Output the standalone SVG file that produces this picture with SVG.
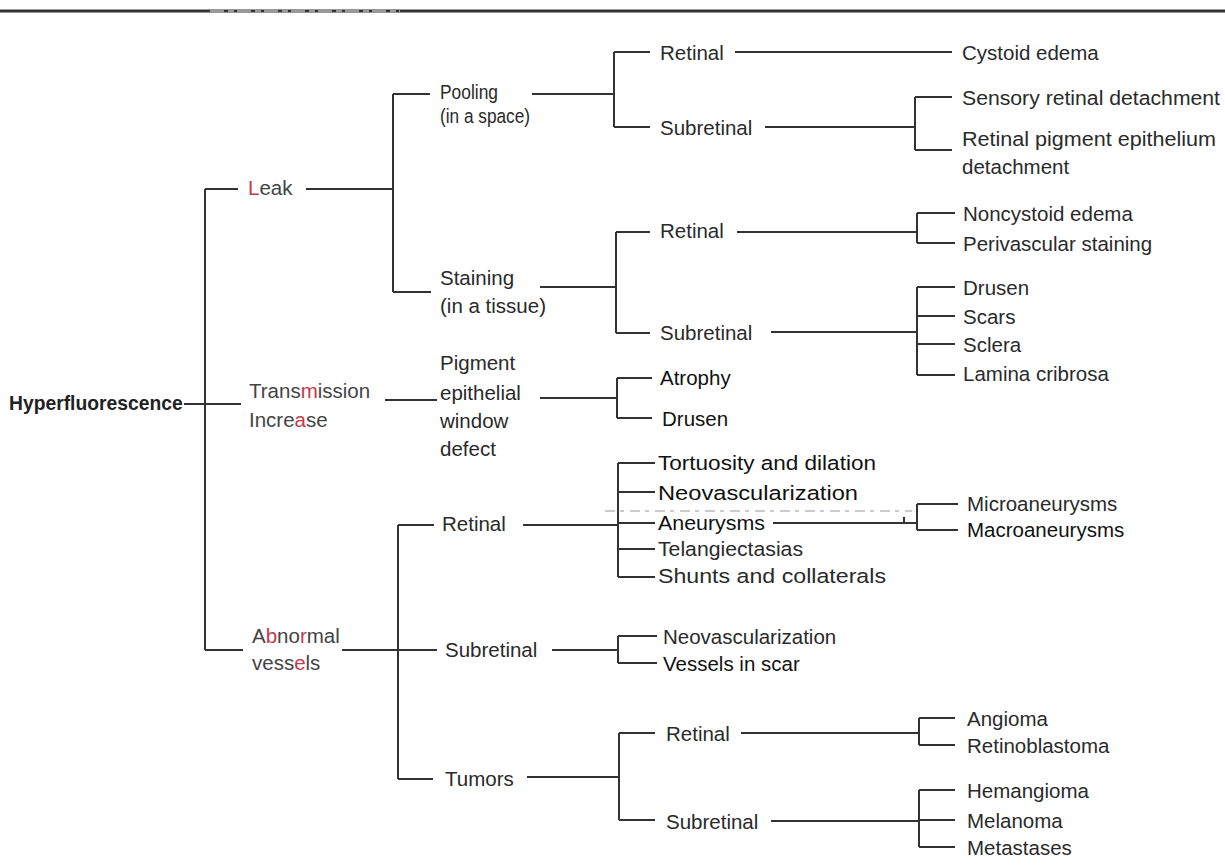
<svg xmlns="http://www.w3.org/2000/svg" width="1225" height="867" viewBox="0 0 1225 867">
<style>
text{font-family:"Liberation Sans",Arial,sans-serif;font-size:20.5px;fill:#2a2a2a;dominant-baseline:central}
.b{font-weight:bold;fill:#222;font-size:19.3px}
.d{fill:#111}
.r{fill:#c8384e}
.l{fill:#444}
#connectors path{fill:none;stroke:#333;stroke-width:2}
#connectors .faint{stroke:#bbb;stroke-width:1.5;stroke-dasharray:10 5 4 6}
</style>
<rect width="1225" height="867" fill="#fff"/>
<line x1="0" y1="11" x2="1225" y2="11" stroke="#333" stroke-width="3"/>
<line x1="210" y1="11" x2="400" y2="11" stroke="#999" stroke-width="3" stroke-dasharray="14 4 6 3"/>
<g id="connectors">
<path d="M184 404H241M205 189V650M205 189H238M205 650H243"/>
<path d="M306 189H393M393 94V292M393 94H430M393 292H431"/>
<path d="M532 94H614M614 52V127M614 52H650M614 127H650"/>
<path d="M735 52H952M765 127H915M915 97V150M915 97H952M915 150H952"/>
<path d="M540 287H616M616 232V333M616 232H650M616 333H650"/>
<path d="M737 232H917M917 213V243M917 213H955M917 243H955"/>
<path d="M771 332H917M917 287V375M917 287H955M917 316H955M917 344H955M917 375H955"/>
<path d="M385 400H437M540 398H617M617 378V418M617 378H652M617 418H652"/>
<path d="M342 650H437M398 525V779M398 525H434M398 779H433"/>
<path d="M523 525H618M618 463V577M618 463H655M618 492H655M618 523H655M618 549H655M618 577H655"/>
<path d="M773 523H917M917 504V530M917 504H958M917 530H958M904 517V523"/>
<path class="faint" d="M605 511H912"/>
<path d="M552 650H618M618 636V663M618 636H657M618 663H657"/>
<path d="M527 777H619M619 733V820M619 733H655M619 820H655"/>
<path d="M741 733H919M919 718V745M919 718H955M919 745H955"/>
<path d="M771 821H919M919 790V847M919 790H955M919 820H955M919 847H955"/>
</g>
<g id="n-root"><text class="b" x="9" y="403">Hyperfluorescence</text></g>
<g id="n-leak"><text class="l" x="248" y="187"><tspan class="r">L</tspan>eak</text></g>
<g id="n-transmission"><text class="l" x="249" y="390">Trans<tspan class="r">m</tspan>ission</text><text class="l" x="249" y="419">Incre<tspan class="r">a</tspan>se</text></g>
<g id="n-abnormal"><text class="l" x="252" y="635">A<tspan class="r">b</tspan>no<tspan class="r">r</tspan>mal</text><text class="l" x="252" y="662">vess<tspan class="r">e</tspan>ls</text></g>
<g id="n-pooling"><text x="440" y="91" textLength="58" lengthAdjust="spacingAndGlyphs">Pooling</text><text x="440" y="115" textLength="90" lengthAdjust="spacingAndGlyphs">(in a space)</text></g>
<g id="n-staining"><text x="440" y="277">Staining</text><text x="440" y="305">(in a tissue)</text></g>
<g id="n-pigment"><text x="440" y="362">Pigment</text><text x="440" y="392">epithelial</text><text x="440" y="420">window</text><text x="440" y="448">defect</text></g>
<g id="n-pool-retinal"><text x="660" y="52">Retinal</text></g>
<g id="n-pool-subretinal"><text x="660" y="127">Subretinal</text></g>
<g id="n-cystoid"><text x="962" y="52">Cystoid edema</text></g>
<g id="n-sensory"><text x="962" y="97" textLength="258" lengthAdjust="spacingAndGlyphs">Sensory retinal detachment</text></g>
<g id="n-rpe"><text x="962" y="138" textLength="254" lengthAdjust="spacingAndGlyphs">Retinal pigment epithelium</text><text x="962" y="166">detachment</text></g>
<g id="n-stain-retinal"><text x="660" y="230">Retinal</text></g>
<g id="n-stain-subretinal"><text x="660" y="332">Subretinal</text></g>
<g id="n-noncystoid"><text x="963" y="213">Noncystoid edema</text></g>
<g id="n-perivascular"><text x="963" y="243">Perivascular staining</text></g>
<g id="n-drusen1"><text x="963" y="287">Drusen</text></g>
<g id="n-scars"><text x="963" y="316">Scars</text></g>
<g id="n-sclera"><text x="963" y="344">Sclera</text></g>
<g id="n-lamina"><text x="963" y="373">Lamina cribrosa</text></g>
<g id="n-atrophy"><text class="d" x="660" y="377">Atrophy</text></g>
<g id="n-drusen2"><text class="d" x="662" y="418">Drusen</text></g>
<g id="n-av-retinal"><text x="442" y="523">Retinal</text></g>
<g id="n-tortuosity"><text class="d" x="658" y="462" textLength="218" lengthAdjust="spacingAndGlyphs">Tortuosity and dilation</text></g>
<g id="n-neovasc1"><text class="d" x="658" y="492" textLength="200" lengthAdjust="spacingAndGlyphs">Neovascularization</text></g>
<g id="n-aneurysms"><text class="d" x="658" y="522" textLength="107" lengthAdjust="spacingAndGlyphs">Aneurysms</text></g>
<g id="n-telang"><text x="658" y="548" textLength="145" lengthAdjust="spacingAndGlyphs">Telangiectasias</text></g>
<g id="n-shunts"><text x="658" y="575" textLength="228" lengthAdjust="spacingAndGlyphs">Shunts and collaterals</text></g>
<g id="n-micro"><text x="967" y="503">Microaneurysms</text></g>
<g id="n-macro"><text class="d" x="967" y="529">Macroaneurysms</text></g>
<g id="n-av-subretinal"><text x="445" y="649">Subretinal</text></g>
<g id="n-neovasc2"><text x="663" y="636">Neovascularization</text></g>
<g id="n-vessels-scar"><text class="d" x="663" y="663">Vessels in scar</text></g>
<g id="n-tumors"><text x="445" y="778">Tumors</text></g>
<g id="n-tum-retinal"><text x="666" y="733">Retinal</text></g>
<g id="n-tum-subretinal"><text x="666" y="821">Subretinal</text></g>
<g id="n-angioma"><text x="967" y="718">Angioma</text></g>
<g id="n-retinoblastoma"><text x="967" y="745">Retinoblastoma</text></g>
<g id="n-hemangioma"><text x="967" y="790">Hemangioma</text></g>
<g id="n-melanoma"><text x="967" y="820">Melanoma</text></g>
<g id="n-metastases"><text x="967" y="847">Metastases</text></g>
</svg>
